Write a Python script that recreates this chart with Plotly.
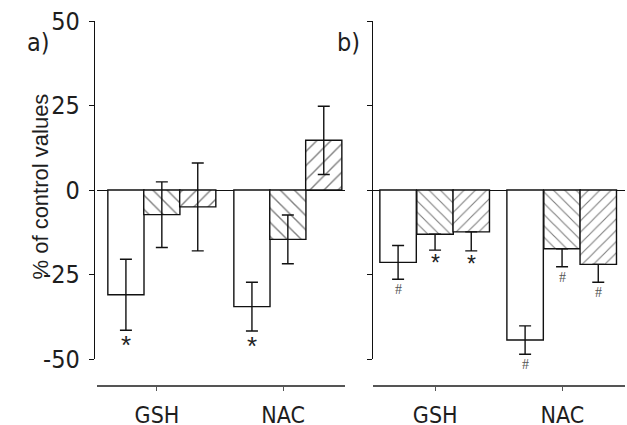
import plotly.graph_objects as go

categories = ["GSH", "NAC"]
y_ticks = [-50, -25, 0, 25, 50]
y_tick_labels = ["-50", "-25", "0", "25", "50"]

# Panel a
a_white = [-31.0, -34.5]
a_white_err = [10.5, 7.2]
a_back = [-7.3, -14.6]
a_back_err = [9.7, 7.2]
a_slash = [-5.0, 14.7]
a_slash_err = [13.0, 10.1]
a_white_mark = ["*", "*"]
a_back_mark = ["", ""]
a_slash_mark = ["", ""]

# Panel b
b_white = [-21.4, -44.4]
b_white_err = [5.0, 4.2]
b_back = [-13.1, -17.4]
b_back_err = [4.7, 5.3]
b_slash = [-12.4, -22.0]
b_slash_err = [5.6, 5.3]
b_white_mark = ["#", "#"]
b_back_mark = ["*", "#"]
b_slash_mark = ["*", "#"]

W, H = 627, 425
TOP, BOT = 21, 386
PH = BOT - TOP
FONT = "DejaVu Sans Condensed, Liberation Sans Narrow, Liberation Sans, Arial, sans-serif"
TXT = "#1e1e1e"

def px_x(p):
    return p / W

def px_y(p):
    return (BOT - p) / PH

fig = go.Figure()

xs = [0, 1]
BW = 0.287

panels = [
    dict(xa="x", ya="y", offsets=[-0.39, -0.105, 0.18], hatch=10,
         data=[(a_white, a_white_err, a_white_err, "", a_white_mark),
               (a_back, a_back_err, a_back_err, "\\", a_back_mark),
               (a_slash, a_slash_err, a_slash_err, "/", a_slash_mark)]),
    dict(xa="x2", ya="y2", offsets=[-0.436, -0.145, 0.14], hatch=8,
         data=[(b_white, b_white_err, b_white_err, "", b_white_mark),
               (b_back, [0, 0], b_back_err, "\\", b_back_mark),
               (b_slash, [0, 0], b_slash_err, "/", b_slash_mark)]),
]

annotations = []
for pi, p in enumerate(panels):
    for k, (vals, eplus, eminus, shape, marks) in enumerate(p["data"]):
        fig.add_trace(go.Bar(
            x=xs, y=vals, xaxis=p["xa"], yaxis=p["ya"],
            offset=p["offsets"][k], width=BW,
            marker=dict(color="white",
                        line=dict(color="#111", width=1.4),
                        pattern=dict(shape=shape, fgcolor="#000", bgcolor="white",
                                     size=p["hatch"], solidity=0.14)),
            error_y=dict(type="data", symmetric=False, array=eplus, arrayminus=eminus,
                         color="#111", thickness=1.4, width=6),
            showlegend=False,
        ))
        for i in range(2):
            m = marks[i]
            if not m:
                continue
            cx = xs[i] + p["offsets"][k] + BW / 2
            low = vals[i] - eminus[i]
            if m == "*":
                fsz = 26 if pi == 0 else 23
                annotations.append(dict(
                    x=cx, y=low, xref=p["xa"], yref=p["ya"], text="*",
                    showarrow=False, yanchor="top", yshift=2,
                    font=dict(family="Liberation Sans, Arial, sans-serif", size=fsz, color="#222")))
            else:
                annotations.append(dict(
                    x=cx, y=low, xref=p["xa"], yref=p["ya"], text="#",
                    showarrow=False, yanchor="top", yshift=-1,
                    font=dict(family="Liberation Serif, Times New Roman, serif", size=14, color="#555")))

annotations += [
    dict(x=px_x(25), y=px_y(26), xref="paper", yref="paper", text="a)", showarrow=False,
         font=dict(family=FONT, size=25, color=TXT)),
    dict(x=px_x(348), y=px_y(26), xref="paper", yref="paper", text="b)", showarrow=False,
         font=dict(family=FONT, size=25, color=TXT)),
    dict(x=px_x(25), y=px_y(187), xref="paper", yref="paper", text="% of control values",
         showarrow=False, textangle=-90,
         font=dict(family="Liberation Sans, Arial, sans-serif", size=22, color=TXT)),
]

ydom = [px_y(359), 1.0]
common_y = dict(range=[-50, 50], domain=ydom, anchor="free", tickmode="array",
                tickvals=y_ticks, ticktext=y_tick_labels, ticks="outside", ticklen=5,
                tickwidth=1.4, tickcolor="#111", showline=True, linecolor="#111",
                linewidth=1.4, showgrid=False, zeroline=True, zerolinecolor="#111",
                zerolinewidth=1.4, ticklabelstandoff=4, ticklabeloverflow="allow",
                automargin=False,
                tickfont=dict(family=FONT, size=25, color=TXT))
common_x = dict(range=[-0.476, 1.492], anchor="free", position=0, tickmode="array",
                tickvals=xs, ticktext=categories, ticks="outside", ticklen=4,
                tickwidth=1.4, tickcolor="#555", showline=True, linecolor="#555",
                linewidth=2, showgrid=False, zeroline=False, ticklabelstandoff=4,
                ticklabeloverflow="allow", automargin=False,
                tickfont=dict(family=FONT, size=23, color=TXT))

fig.update_layout(
    width=W, height=H,
    margin=dict(l=0, r=0, t=TOP, b=H - BOT, autoexpand=False),
    paper_bgcolor="white", plot_bgcolor="white",
    xaxis=dict(common_x, domain=[px_x(97), px_x(345)]),
    xaxis2=dict(common_x, domain=[px_x(373), px_x(625)], range=[-0.49, 1.494]),
    yaxis=dict(common_y, position=px_x(94)),
    yaxis2=dict(common_y, position=px_x(372), showticklabels=False),
    annotations=annotations,
)

fig.write_html("out.html", config={"displayModeBar": False},
               post_script="document.body.style.margin='0';document.body.style.overflow='hidden';")
